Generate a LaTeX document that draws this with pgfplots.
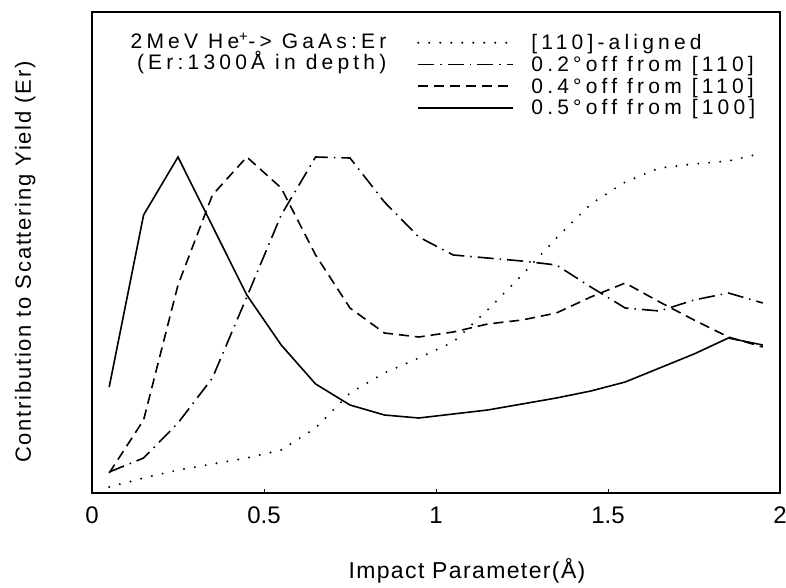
\documentclass[border=0pt]{standalone}
\usepackage{fontspec}
\setmainfont{Liberation Sans}
\newfontfamily\spaced{Liberation Sans}[LetterSpace=20]
\newfontfamily\yspaced{Liberation Sans}[LetterSpace=8]
\newfontfamily\xspaced{Liberation Sans}[LetterSpace=6]
\usepackage{pgfplots}
\pgfplotsset{compat=1.18}
\begin{document}
\begin{tikzpicture}
\begin{axis}[
  scale only axis, width=688pt, height=481pt,
  xmin=0, xmax=2, ymin=0, ymax=481,
  xtick={0,0.5,1,1.5,2}, ytick=\empty,
  xtick pos=bottom, tick align=inside, major tick length=4pt,
  /pgf/number format/assume math mode=true,
  xticklabel style={font=\fontsize{24}{24}\selectfont, yshift=-10pt},
  axis line style={line width=1.3pt},
  every tick/.style={line width=1pt, black},
  xlabel={Impact Parameter(Å)},
  xlabel style={at={(axis description cs:0.545,-0.177)}, anchor=base, font=\xspaced\fontsize{23}{23}\selectfont},
  ylabel={Contribution to Scattering Yield (Er)},
  ylabel style={at={(axis description cs:-0.0887,0.48)}, anchor=base, rotate=0, font=\yspaced\fontsize{22}{22}\selectfont},
  legend style={at={(axis description cs:0.4724,0.958)}, anchor=north west,
    draw=none, fill=none, inner sep=0pt, row sep=1pt,
    font=\spaced\fontsize{21}{22}\selectfont},
  legend cell align=left,
  legend image code/.code={\draw[#1] (0pt,0pt) -- (95pt,0pt); \path (110pt,0pt);},
]
\addplot[black, line width=2.2pt, line cap=round, dash pattern=on 0pt off 11pt] coordinates {
(0.05,6) (0.15,15) (0.25,23) (0.35,29) (0.45,35) (0.55,43) (0.65,65) (0.75,100) (0.85,120) (0.95,135)
(1.05,151) (1.15,183) (1.25,218) (1.35,255) (1.45,289) (1.55,311) (1.65,325) (1.75,329) (1.85,332) (1.95,340)};
\addlegendentry{[110]-aligned}
\addplot[black, line width=1.6pt, dash pattern=on 16pt off 6pt on 1.5pt off 6pt] coordinates {
(0.05,21) (0.15,35) (0.25,70) (0.35,115) (0.45,196) (0.55,278) (0.65,336) (0.75,335) (0.85,291) (0.95,256)
(1.05,238) (1.15,235) (1.25,232) (1.35,228) (1.45,206) (1.55,185) (1.65,182) (1.75,193) (1.85,200) (1.95,190)};
\addlegendentry{0.2°off from [110]}
\addplot[black, line width=1.6pt, dash pattern=on 10pt off 6pt] coordinates {
(0.05,20) (0.15,73) (0.25,208) (0.35,298) (0.45,336) (0.55,305) (0.65,238) (0.75,185) (0.85,160) (0.95,156)
(1.05,161) (1.15,169) (1.25,173) (1.35,180) (1.45,196) (1.55,210) (1.65,191) (1.75,173) (1.85,156) (1.95,146)};
\addlegendentry{0.4°off from [110]}
\addplot[black, line width=1.6pt] coordinates {
(0.05,106) (0.15,278) (0.25,336) (0.35,267) (0.45,198) (0.55,148) (0.65,109) (0.75,88) (0.85,78) (0.95,75)
(1.05,79) (1.15,83) (1.25,89) (1.35,95) (1.45,102) (1.55,111) (1.65,125) (1.75,139) (1.85,155) (1.95,148)};
\addlegendentry{0.5°off from [100]}
\node[anchor=base east, font=\spaced\fontsize{21}{22}\selectfont] at (axis cs:0.866,444) {2MeV He\textsuperscript{+}-> GaAs:Er};
\node[anchor=base east, font=\spaced\fontsize{21}{22}\selectfont] at (axis cs:0.866,423) {(Er:1300Å in depth)};
\end{axis}
\pgfresetboundingbox
\useasboundingbox ([shift={(-92pt,-94pt)}]current axis.south west) rectangle ([shift={(6pt,12pt)}]current axis.north east);
\end{tikzpicture}
\end{document}
